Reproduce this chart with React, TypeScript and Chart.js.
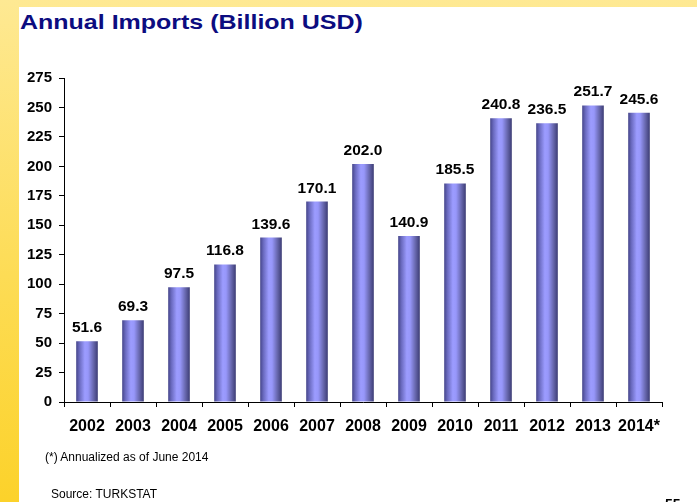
import React, { useEffect, useRef } from "react";
import { Chart, registerables } from "chart.js";

Chart.register(...registerables);

const categories = ["2002", "2003", "2004", "2005", "2006", "2007", "2008", "2009", "2010", "2011", "2012", "2013", "2014*"];
const importValues = [51.6, 69.3, 97.5, 116.8, 139.6, 170.1, 202.0, 140.9, 185.5, 240.8, 236.5, 251.7, 245.6];
const yMin = 0;
const yMax = 275;
const yStep = 25;

const FONT = "'Liberation Sans', Arial, Helvetica, sans-serif";
const BAR_PCT = 0.47;

const valueLabels = {
  id: "valueLabels",
  afterDatasetsDraw(chart: any) {
    const ctx = chart.ctx;
    const meta = chart.getDatasetMeta(0);
    const data = chart.data.datasets[0].data as number[];
    ctx.save();
    ctx.font = `bold 15.5px ${FONT}`;
    ctx.fillStyle = "#000";
    ctx.textAlign = "center";
    ctx.textBaseline = "alphabetic";
    meta.data.forEach((el: any, i: number) => {
      ctx.fillText(data[i].toFixed(1), el.x, el.y - 9);
    });
    ctx.restore();
  },
};

function barGradient(c: any) {
  const chart = c.chart;
  const xs = chart.scales?.x;
  if (!xs || !chart.chartArea) return "#8f8ff0";
  const center = xs.getPixelForValue(c.dataIndex);
  const catW = (xs.right - xs.left) / categories.length;
  const w = catW * BAR_PCT;
  const g = chart.ctx.createLinearGradient(center - w / 2, 0, center + w / 2, 0);
  g.addColorStop(0, "#45458a");
  g.addColorStop(0.15, "#6a6abf");
  g.addColorStop(0.4, "#9c9cff");
  g.addColorStop(0.55, "#9797fa");
  g.addColorStop(0.8, "#6666ac");
  g.addColorStop(1, "#3c3c74");
  return g;
}

function ImportsChart() {
  const ref = useRef<HTMLCanvasElement | null>(null);
  useEffect(() => {
    if (!ref.current) return;
    const chart = new Chart(ref.current, {
      type: "bar",
      data: {
        labels: categories,
        datasets: [
          {
            data: importValues,
            backgroundColor: barGradient as any,
            borderWidth: 0,
            categoryPercentage: 1,
            barPercentage: BAR_PCT,
          },
        ],
      },
      options: {
        responsive: false,
        animation: false,
        devicePixelRatio: 1,
        layout: { padding: { left: 0, right: 35, top: 78, bottom: 60 } },
        plugins: {
          legend: { display: false },
          tooltip: { enabled: false },
          title: { display: false },
        },
        scales: {
          x: {
            offset: true,
            grid: {
              display: true,
              offset: true,
              drawOnChartArea: false,
              drawTicks: true,
              tickLength: 5,
              color: "#000",
            },
            border: { display: true, color: "#000", width: 1 },
            ticks: {
              color: "#000",
              font: { family: FONT, size: 16, weight: "bold" },
              padding: 10,
              maxRotation: 0,
              autoSkip: false,
            },
            afterFit(scale: any) {
              scale.height = 40;
            },
          },
          y: {
            min: yMin,
            max: yMax,
            grid: {
              display: true,
              drawOnChartArea: false,
              drawTicks: true,
              tickLength: 5,
              color: "#000",
            },
            border: { display: true, color: "#000", width: 1 },
            ticks: {
              stepSize: yStep,
              color: "#000",
              font: { family: FONT, size: 15, weight: "bold" },
              padding: 7,
            },
            afterFit(scale: any) {
              scale.width = 64;
            },
          },
        },
      },
      plugins: [valueLabels],
    });
    return () => chart.destroy();
  }, []);
  return (
    <canvas
      ref={ref}
      width={697}
      height={502}
      style={{ position: "absolute", left: 0, top: 0, width: 697, height: 502 }}
    />
  );
}

export default function App() {
  return (
    <div
      style={{
        position: "fixed",
        left: 0,
        top: 0,
        width: 697,
        height: 502,
        overflow: "hidden",
        background: "linear-gradient(180deg, #fee993 0%, #fddc55 55%, #fcd22a 100%)",
        fontFamily: FONT,
      }}
    >
      <div
        style={{
          position: "absolute",
          left: 19,
          top: 7,
          right: 0,
          bottom: 0,
          background: "#ffffff",
        }}
      />
      <div
        style={{
          position: "absolute",
          left: 20,
          top: 10.5,
          fontSize: 21,
          lineHeight: "21px",
          fontWeight: "bold",
          color: "#0c0c80",
          whiteSpace: "nowrap",
          transform: "scaleX(1.19)",
          transformOrigin: "left top",
        }}
      >
        Annual Imports (Billion USD)
      </div>
      <ImportsChart />
      <div
        style={{
          position: "absolute",
          left: 45,
          top: 450.5,
          fontSize: 12,
          lineHeight: "12px",
          color: "#000",
          whiteSpace: "nowrap",
        }}
      >
        (*) Annualized as of June 2014
      </div>
      <div
        style={{
          position: "absolute",
          left: 51,
          top: 488,
          fontSize: 12,
          lineHeight: "12px",
          color: "#000",
          whiteSpace: "nowrap",
        }}
      >
        Source: TURKSTAT
      </div>
      <div
        style={{
          position: "absolute",
          left: 665,
          top: 497,
          fontSize: 14,
          lineHeight: "14px",
          fontWeight: "bold",
          color: "#000",
          whiteSpace: "nowrap",
        }}
      >
        55
      </div>
    </div>
  );
}
